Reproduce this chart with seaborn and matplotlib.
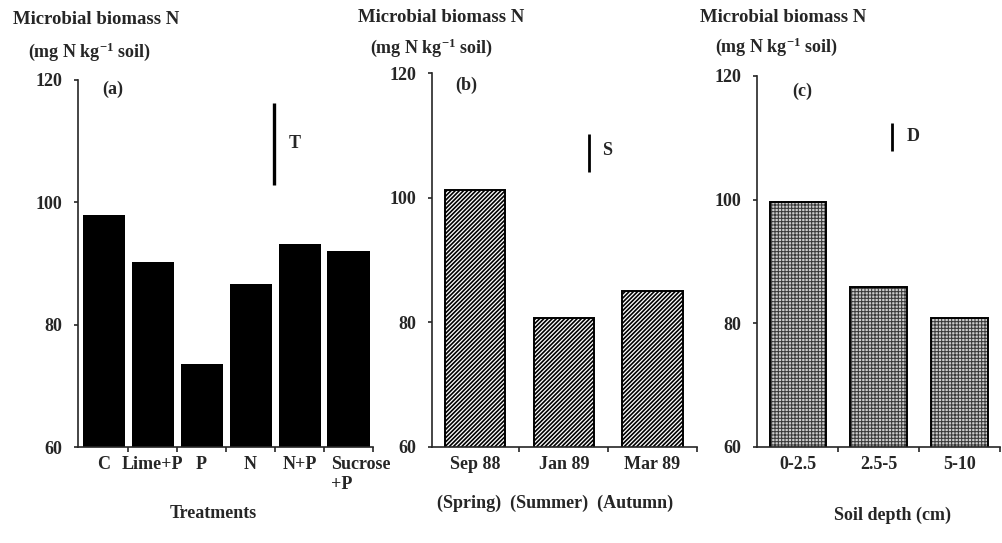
import matplotlib
matplotlib.use("Agg")
import matplotlib.pyplot as plt
import matplotlib as mpl
from matplotlib.transforms import ScaledTranslation
import seaborn as sns
import numpy as np

# ---------------- data ----------------
treatments = ["C", "Lime+P", "P", "N", "N+P", "Sucrose\n+P"]
treat_values = [98.0, 90.2, 73.5, 86.7, 93.2, 92.0]

seasons = ["Sep 88", "Jan 89", "Mar 89"]
season_values = [101.2, 80.7, 85.0]

depths = ["0-2.5", "2.5-5", "5-10"]
depth_values = [99.6, 85.9, 80.8]

yticks = [60, 80, 100, 120]

# LSD bars (x position in category units, low, high) and labels
lsd_labels = ["T", "S", "D"]
lsd_x = [3.47, 1.29, 1.16]
lsd_lo = [102.8, 104.2, 107.8]
lsd_hi = [116.3, 110.3, 112.4]
lsd_text_x = [3.91, 1.49, 1.42]
lsd_text_y = [109.6, 107.6, 110.2]

panel_labels = ["(a)", "(b)", "(c)"]
panel_label_x = [0.19, -0.1, 0.05]
panel_label_y = [118.4, 118.0, 117.5]

xlabels = ["Treatments", "(Spring)  (Summer)  (Autumn)", "Soil depth (cm)"]
header1 = "Microbial biomass N"
header2 = "(mg N kg$^{-1}$ soil)"

# ---------------- style ----------------
sns.set_style("ticks")
plt.rcParams["font.family"] = ["Liberation Serif", "DejaVu Serif"]
plt.rcParams["font.weight"] = "bold"
plt.rcParams["mathtext.fontset"] = "custom"
plt.rcParams["mathtext.rm"] = "Liberation Serif:bold"
plt.rcParams["mathtext.it"] = "Liberation Serif:bold"
plt.rcParams["mathtext.bf"] = "Liberation Serif:bold"
plt.rcParams["mathtext.default"] = "rm"
plt.rcParams["axes.linewidth"] = 1.2

W, H = 1003, 543
fig = plt.figure(figsize=(W / 100, H / 100), dpi=100)

def px_axes(left, right, top, bottom):
    return fig.add_axes([left / W, 1 - bottom / H, (right - left) / W, (bottom - top) / H])

ax_a = px_axes(78, 373, 80, 447)
ax_b = px_axes(431.7, 696.7, 73.3, 446.7)
ax_c = px_axes(756.7, 1000, 76, 446.7)

TICK_FS = 13
# (a) solid black bars
sns.barplot(x=treatments, y=treat_values, ax=ax_a, color="black", saturation=1,
            width=0.86, edgecolor="black", linewidth=0)

# (b) diagonal hatched bars
with mpl.rc_context({"hatch.linewidth": 1.2}):
    sns.barplot(x=seasons, y=season_values, ax=ax_b, color="white", saturation=1,
                width=0.68, edgecolor="black", linewidth=1.4, hatch="////////")

# (c) grey stippled bars
with mpl.rc_context({"hatch.linewidth": 0.75}):
    sns.barplot(x=depths, y=depth_values, ax=ax_c, color="#cccccc", saturation=1,
                width=0.70, edgecolor="#3a3a3a", linewidth=0, hatch="+++++")
sns.barplot(x=depths, y=depth_values, ax=ax_c, color="black", fill=False,
            width=0.70, linewidth=1.4)

axes = [ax_a, ax_b, ax_c]
xlims = [(-0.525, 5.5), (-0.49, 2.5), (-0.51, 2.5)]
ncats = [len(treatments), len(seasons), len(depths)]
label_coords = [(0.458, -0.18), (0.465, -0.151), (0.56, -0.184)]

for i, ax in enumerate(axes):
    ax.set_ylim(60, 120)
    ax.set_xlim(*xlims[i])
    ax.set_yticks(yticks)
    ax.set_yticklabels([str(t) for t in yticks], fontsize=TICK_FS, fontweight="bold")
    ax.tick_params(axis="y", direction="out", length=3, width=1.2, pad=8)
    ax.set_xticks(np.arange(ncats[i]) + 0.5, minor=True)
    ax.tick_params(axis="x", which="minor", direction="out", length=3.5, width=1.2)
    ax.tick_params(axis="x", which="major", length=0, pad=6.5, labelsize=TICK_FS)
    for lab in ax.get_xticklabels():
        lab.set_fontweight("bold")
    sns.despine(ax=ax)
    ax.set_xlabel(xlabels[i], fontsize=TICK_FS, fontweight="bold")
    ax.xaxis.set_label_coords(*label_coords[i])
    ax.xaxis.label.set_va("center")
    ax.set_ylabel("")
    # LSD bar
    ax.vlines(lsd_x[i], lsd_lo[i], lsd_hi[i], color="black", linewidth=2.4 if i == 0 else 2.0)
    ax.text(lsd_text_x[i], lsd_text_y[i], lsd_labels[i], fontsize=TICK_FS,
            fontweight="bold", ha="center", va="center")
    ax.text(panel_label_x[i], panel_label_y[i], panel_labels[i], fontsize=TICK_FS,
            fontweight="bold", ha="center", va="center")

# shift the two-line "Sucrose +P" label to the right, left-aligned lines
lab = ax_a.get_xticklabels()[-1]
lab.set_multialignment("left")
lab.set_transform(lab.get_transform() + ScaledTranslation(12 / 100, 0, fig.dpi_scale_trans))

# headers
HFS = 13.5
header_pos = [((12.7, 19), (28, 52)), ((358, 18), (370, 48)), ((700, 17), (715, 47))]
for (h1, h2) in header_pos:
    fig.text(h1[0] / W, 1 - h1[1] / H, header1, fontsize=HFS, fontweight="bold",
             ha="left", va="center")
    fig.text(h2[0] / W, 1 - h2[1] / H, header2, fontsize=TICK_FS, fontweight="bold",
             ha="left", va="center")

fig.savefig("out.png", dpi=100)
